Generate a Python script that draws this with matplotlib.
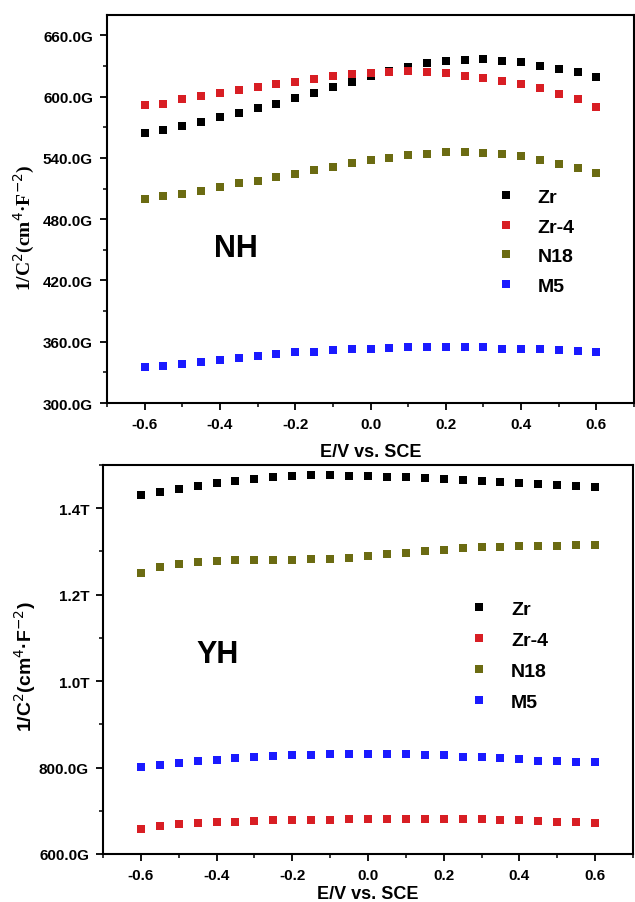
import matplotlib
matplotlib.use("Agg")
import matplotlib.pyplot as plt
from matplotlib.ticker import MultipleLocator, FuncFormatter
from matplotlib.lines import Line2D
import numpy as np

plt.rcParams['font.family'] = ['Liberation Sans', 'DejaVu Sans']

E = [-0.6, -0.55, -0.5, -0.45, -0.4, -0.35, -0.3, -0.25, -0.2, -0.15, -0.1, -0.05,
     0.0, 0.05, 0.1, 0.15, 0.2, 0.25, 0.3, 0.35, 0.4, 0.45, 0.5, 0.55, 0.6]

series_names = ["Zr", "Zr-4", "N18", "M5"]
colors = ["#000000", "#d81e24", "#6b6b12", "#1a1aff"]

# NH panel (values in G)
nh_zr = [564, 567, 571, 575, 580, 584, 588.6, 593, 598.7, 604, 609, 614.3, 620.5,
         625.4, 628.7, 633, 635, 636, 636.5, 635, 633.6, 630.3, 627.4, 624, 619.6]
nh_zr4 = [591.6, 592.9, 597.5, 600.7, 603.6, 606.6, 609.5, 612.1, 614.7, 617, 620, 622,
          623.5, 624.5, 624.7, 624.5, 623.2, 620.6, 618.3, 615.4, 612.1, 608.2, 602.6,
          597.5, 590.2]
nh_n18 = [499.9, 502.8, 505, 508, 511.3, 515.2, 517.5, 521.4, 524.6, 528.5, 531.5, 535,
          538.3, 540, 542.6, 544.2, 545.9, 545.9, 544.9, 544.2, 541.6, 538, 534.4, 530.2,
          525]
nh_m5 = [335.5, 336.7, 338.3, 340.6, 342.6, 344.2, 345.8, 347.8, 349.5, 350.4, 352,
         352.7, 353.3, 354, 354.6, 355.2, 355.2, 354.6, 354.6, 353.3, 353, 352.4, 351.7,
         350.7, 349.7]

# YH panel (values in G)
yh_zr = [1429.7, 1438, 1445, 1451, 1457.5, 1463, 1467.6, 1472, 1474.6, 1477.5, 1477.5,
         1475, 1474.6, 1472, 1472, 1470, 1467.6, 1465, 1463.6, 1461, 1458.8, 1456.5,
         1454, 1451, 1449]
yh_zr4 = [658, 664.3, 669, 672, 673.6, 674.4, 676, 677.5, 677.5, 678.3, 679, 679.8,
          680.6, 680.6, 682, 682, 682, 681.4, 679.8, 679, 677.5, 676, 674.4, 673.6, 672]
yh_n18 = [1250.6, 1263.7, 1271.5, 1275.3, 1277.7, 1280, 1279.2, 1280, 1280.7, 1281.5,
          1283, 1285.4, 1289, 1293, 1297, 1300.6, 1304, 1307, 1309.4, 1309.4, 1311.8,
          1312.6, 1313.4, 1315, 1315]
yh_m5 = [800.8, 806, 811, 814, 817, 821, 824, 825.6, 828, 830, 831, 831, 831, 831, 831,
         828.7, 828, 825, 823.3, 821, 818.6, 816, 814.5, 813, 811.7]

fig = plt.figure(figsize=(6.35, 9.03), dpi=100)
ax1 = fig.add_axes([0.1685, 0.5526, 0.8300, 0.4297])
ax2 = fig.add_axes([0.1622, 0.0532, 0.8346, 0.4307])


def style(ax, xpad):
    for s in ax.spines.values():
        s.set_linewidth(1.5)
    ax.tick_params(which='major', direction='out', length=5, width=1.3,
                   top=False, right=False, pad=5)
    ax.tick_params(which='minor', direction='out', length=3, width=1.1,
                   top=False, right=False)
    ax.set_xlim(-0.7, 0.7)
    ax.xaxis.set_major_locator(MultipleLocator(0.2))
    ax.xaxis.set_minor_locator(MultipleLocator(0.1))
    ax.xaxis.set_major_formatter(FuncFormatter(lambda v, p: f"{v:.1f}"))
    for lab in ax.get_xticklabels() + ax.get_yticklabels():
        lab.set_fontweight('bold')
        lab.set_fontsize(11)
    ax.set_xlabel("E/V vs. SCE", fontsize=13, fontweight='bold', labelpad=xpad)


def legend(ax, anchor, spacing):
    handles = [Line2D([], [], linestyle='none', marker='s', markersize=6,
                      color=c, markeredgewidth=0) for c in colors]
    ax.legend(handles, series_names, loc='center left', bbox_to_anchor=anchor,
              frameon=False, handlelength=1.0, handletextpad=1.15,
              labelspacing=spacing, prop=dict(size=14, weight='bold'))


# Top panel
for vals, c in zip([nh_zr, nh_zr4, nh_n18, nh_m5], colors):
    ax1.plot(E, vals, linestyle='none', marker='s', markersize=6, color=c,
             markeredgewidth=0)
ax1.set_ylim(300, 680)
ax1.yaxis.set_major_locator(MultipleLocator(60))
ax1.yaxis.set_minor_locator(MultipleLocator(30))
ax1.yaxis.set_major_formatter(FuncFormatter(lambda v, p: f"{v:.1f}G"))
style(ax1, 9)
ax1.set_ylabel(r"1/C$^{2}$(cm$^{4}$·F$^{-2}$)", fontsize=14, fontweight='bold',
               family=['Liberation Serif'], labelpad=4)
ax1.yaxis.label.set_y(0.4536)
ax1.text(0.245, 0.40, "NH", transform=ax1.transAxes, fontsize=22,
         fontweight='bold', ha='center', va='center')
legend(ax1, (0.705, 0.416), 0.62)

# Bottom panel
for vals, c in zip([yh_zr, yh_zr4, yh_n18, yh_m5], colors):
    ax2.plot(E, vals, linestyle='none', marker='s', markersize=6, color=c,
             markeredgewidth=0)
ax2.set_ylim(600, 1500)
ax2.yaxis.set_major_locator(MultipleLocator(200))
ax2.yaxis.set_minor_locator(MultipleLocator(100))
ax2.yaxis.set_major_formatter(
    FuncFormatter(lambda v, p: f"{v/1000:.1f}T" if v >= 1000 else f"{v:.1f}G"))
style(ax2, 2.5)
ax2.set_ylabel(r"1/C$^{2}$(cm$^{4}$·F$^{-2}$)", fontsize=14, fontweight='bold',
               labelpad=1)
ax2.yaxis.label.set_y(0.483)
ax2.text(0.216, 0.514, "YH", transform=ax2.transAxes, fontsize=22,
         fontweight='bold', ha='center', va='center')
legend(ax2, (0.658, 0.51), 0.68)

fig.savefig("out.png", dpi=100)
